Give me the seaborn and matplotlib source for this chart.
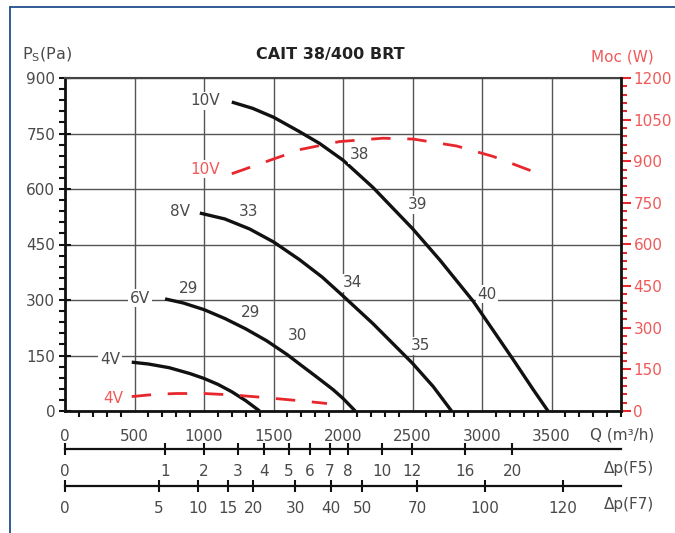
import numpy as np
import pandas as pd
import matplotlib
matplotlib.use("Agg")
import matplotlib.pyplot as plt
from matplotlib.lines import Line2D
from matplotlib.ticker import MultipleLocator
import seaborn as sns

# ---------------- data ----------------
q_4v = [480, 600, 750, 900, 1000, 1100, 1200, 1300, 1400]
ps_4v = [132, 127, 117, 101, 88, 72, 52, 28, 0]

q_6v = [720, 850, 1000, 1150, 1300, 1450, 1600, 1687, 1800, 1928, 2000, 2088]
ps_6v = [303, 292, 274, 250, 222, 190, 152, 127, 95, 58, 34, 0]

q_8v = [970, 1150, 1328, 1500, 1687, 1850, 2000, 2216, 2500, 2649, 2781]
ps_8v = [535, 519, 492, 457, 409, 362, 311, 236, 129, 66, 0]

q_10v = [1200, 1350, 1500, 1687, 1832, 2000, 2216, 2500, 2697, 2938, 3226, 3370, 3475]
ps_10v = [835, 818, 794, 755, 723, 678, 604, 493, 408, 296, 138, 57, 0]

q_pw10 = [1200, 1500, 1700, 1976, 2288, 2505, 2817, 3082, 3420]
pw_10v = [855, 908, 943, 971, 983, 980, 955, 917, 853]

q_pw4 = [480, 650, 800, 1000, 1200, 1400, 1600, 1750, 1885]
pw_4v = [52, 60, 63, 63, 58, 50, 41, 34, 27]

# curve annotations
curve_labels = ["10V", "10V", "8V", "6V", "4V", "4V"]
curve_label_q = [1007, 1007, 827, 540, 324, 345]
curve_label_ps = [838, 654, 540, 305, 140, 35]
curve_label_red = [False, True, False, False, False, True]

num_labels = ["38", "39", "40", "33", "34", "35", "29", "29", "30"]
num_label_q = [2122, 2540, 3036, 1324, 2065, 2561, 892, 1338, 1676]
num_label_ps = [692, 557, 316, 538, 346, 176, 332, 265, 203]

# secondary pressure-drop scales (label, Q position)
f5_labels = ["0", "1", "2", "3", "4", "5", "6", "7", "8", "10", "12", "16", "20"]
f5_q = [0, 719, 1000, 1245, 1432, 1612, 1763, 1906, 2036, 2281, 2496, 2878, 3216]
f7_labels = ["0", "5", "10", "15", "20", "30", "40", "50", "70", "100", "120"]
f7_q = [0, 676, 957, 1173, 1353, 1655, 1914, 2137, 2532, 3022, 3583]

q_ticks = [0, 500, 1000, 1500, 2000, 2500, 3000, 3500]
ps_ticks = [0, 150, 300, 450, 600, 750, 900]
pw_ticks = [0, 150, 300, 450, 600, 750, 900, 1050, 1200]

# ---------------- style ----------------
sns.set_theme(style="white")
plt.rcParams["font.family"] = ["DejaVu Sans"]
TXT = "#4a4a4a"
RED = "#e8262d"
RED_TXT = "#f05a5a"
BLACK = "#111111"

W, H = 675, 533
fig = plt.figure(figsize=(W / 100, H / 100), dpi=100)
x0, x1, y0, y1 = 65, 621, 78, 411
ax = fig.add_axes([x0 / W, 1 - y1 / H, (x1 - x0) / W, (y1 - y0) / H])
ax.set_xlim(0, 4000)
ax.set_ylim(0, 900)

black_curves = [(q_4v, ps_4v), (q_6v, ps_6v), (q_8v, ps_8v), (q_10v, ps_10v)]
for qq, pp in black_curves:
    df = pd.DataFrame({"Q": qq, "Ps": pp})
    sns.lineplot(data=df, x="Q", y="Ps", ax=ax, color=BLACK, lw=2.4,
                 sort=False, solid_capstyle="butt", solid_joinstyle="round",
                 zorder=4)

ax.set_xticks(q_ticks)
ax.set_yticks(ps_ticks)
ax.xaxis.set_minor_locator(MultipleLocator(100))
ax.yaxis.set_minor_locator(MultipleLocator(30))
ax.grid(True, which="major", color="#555555", lw=1.0)
ax.set_axisbelow(True)
ax.set_xlabel("")
ax.set_ylabel("")
ax.tick_params(axis="both", which="major", labelsize=11, labelcolor=TXT,
               direction="inout", length=8, width=1.5, color=BLACK)
ax.tick_params(axis="x", which="major", pad=9)
ax.tick_params(axis="y", which="major", pad=3)
ax.tick_params(axis="both", which="minor", direction="out", length=4,
               width=1.5, color=BLACK)
ax.tick_params(axis="x", which="minor", bottom=True)
ax.tick_params(axis="y", which="minor", left=True)
for s in ["left", "bottom"]:
    ax.spines[s].set_color(BLACK)
    ax.spines[s].set_linewidth(2)
ax.spines["top"].set_color("#444444")
ax.spines["top"].set_linewidth(1.5)
ax.spines["right"].set_visible(False)

# power axis
ax2 = ax.twinx()
ax2.set_ylim(0, 1200)
for qq, pp in [(q_pw10, pw_10v), (q_pw4, pw_4v)]:
    df = pd.DataFrame({"Q": qq, "W": pp})
    sns.lineplot(data=df, x="Q", y="W", ax=ax2, color=RED, lw=2.0,
                 sort=False, dashes=False, zorder=4)
for ln in ax2.get_lines():
    ln.set_dashes((7, 6))
ax2.set_ylabel("")
ax2.set_yticks(pw_ticks)
ax2.yaxis.set_minor_locator(MultipleLocator(30))
ax2.tick_params(axis="y", which="major", labelsize=11, labelcolor=RED_TXT,
                direction="out", length=7, width=1.5, color=RED, pad=2)
ax2.tick_params(axis="y", which="minor", direction="out", length=4,
                width=1.5, color=RED, right=True)
for s in ["left", "bottom", "top"]:
    ax2.spines[s].set_visible(False)
ax2.spines["right"].set_color(BLACK)
ax2.spines["right"].set_linewidth(2)

# annotations
bbox = dict(boxstyle="square,pad=0.12", fc="white", ec="none")
for t, qx, py, red in zip(curve_labels, curve_label_q, curve_label_ps, curve_label_red):
    ax.text(qx, py, t, fontsize=11, color=RED_TXT if red else TXT,
            ha="center", va="center", bbox=bbox, zorder=5)
for t, qx, py in zip(num_labels, num_label_q, num_label_ps):
    ax.text(qx, py, t, fontsize=11, color=TXT, ha="center", va="center",
            bbox=bbox, zorder=5)

# secondary pressure-drop scales
for loc, labels, pos in [(-(449 - y1) / (y1 - y0), f5_labels, f5_q),
                         (-(486 - y1) / (y1 - y0), f7_labels, f7_q)]:
    sec = ax.secondary_xaxis(loc)
    sec.set_xticks(pos)
    sec.set_xticklabels(labels)
    sec.tick_params(axis="x", direction="inout", length=8, width=1.5,
                    color=BLACK, labelsize=11, labelcolor=TXT, pad=7)
    sec.spines["bottom"].set_color(BLACK)
    sec.spines["bottom"].set_linewidth(1.6)

# titles and axis captions
fig.text(330 / W, 1 - 55 / H, "CAIT 38/400 BRT", fontsize=11.5,
         fontweight="bold", color="#222222", ha="center", va="center")
fig.text(22 / W, 1 - 55 / H, r"P$_{\rm S}$(Pa)", fontsize=11.5, color=TXT,
         ha="left", va="center")
fig.text(654 / W, 1 - 57 / H, "Moc (W)", fontsize=11, color=RED_TXT,
         ha="right", va="center")
fig.text(654 / W, 1 - 435 / H, "Q (m³/h)", fontsize=11, color=TXT,
         ha="right", va="center")
fig.text(654 / W, 1 - 468 / H, "Δp(F5)", fontsize=11, color=TXT,
         ha="right", va="center")
fig.text(654 / W, 1 - 505 / H, "Δp(F7)", fontsize=11, color=TXT,
         ha="right", va="center")

# outer frame lines
fig.add_artist(Line2D([9.5 / W, 9.5 / W], [0, 1 - 7 / H], color="#1f4e8c",
                      lw=1.3, transform=fig.transFigure))
fig.add_artist(Line2D([9.5 / W, 1], [1 - 7 / H, 1 - 7 / H], color="#1f4e8c",
                      lw=1.3, transform=fig.transFigure))

fig.savefig("out.png", dpi=100, facecolor="white")
